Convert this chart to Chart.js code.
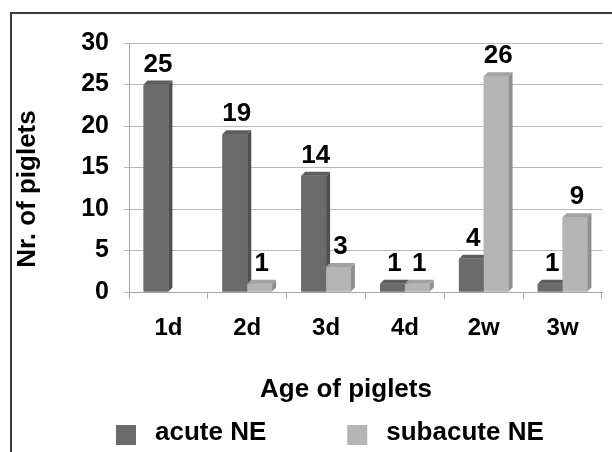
<!DOCTYPE html>
<html><head><meta charset="utf-8">
<script src="https://cdn.jsdelivr.net/npm/chart.js@4.4.1/dist/chart.umd.min.js"></script>
<style>
html,body{margin:0;padding:0;background:#fff;}
#wrap{position:relative;width:612px;height:452px;overflow:hidden;}
#frame{position:absolute;left:10px;top:12px;right:-5px;bottom:-5px;border-top:2px solid #3c3c3c;border-left:2px solid #3c3c3c;pointer-events:none;}
canvas{position:absolute;left:0;top:0;}
</style></head><body>
<div id="wrap"><canvas id="c" width="612" height="452"></canvas><div id="frame"></div></div>
<script>
const categories = ['1d', '2d', '3d', '4d', '2w', '3w'];
const acuteNE = [25, 19, 14, 1, 4, 1];
const subacuteNE = [0, 1, 3, 1, 26, 9];
const yTicks = [0, 5, 10, 15, 20, 25, 30];
const seriesNames = ['acute NE', 'subacute NE'];
const xTitle = 'Age of piglets';
const yTitle = 'Nr. of piglets';

const FONT = '"Liberation Sans", Arial, Helvetica, sans-serif';

const depth3d = {
  id: 'depth3d',
  afterDatasetsDraw(chart) {
    const ctx = chart.ctx;
    const dx = 4, dy = 4;
    chart.data.datasets.forEach((ds, i) => {
      const meta = chart.getDatasetMeta(i);
      meta.data.forEach((bar, j) => {
        if (!ds.data[j]) return;
        const p = bar.getProps(['x', 'y', 'base', 'width'], true);
        const l = p.x - p.width / 2, r = p.x + p.width / 2;
        bar.draw(ctx);
        ctx.save();
        ctx.fillStyle = ds.sideColor;
        ctx.beginPath();
        ctx.moveTo(r, p.y); ctx.lineTo(r + dx, p.y - dy); ctx.lineTo(r + dx, p.base - dy); ctx.lineTo(r, p.base);
        ctx.closePath(); ctx.fill();
        ctx.fillStyle = ds.topColor;
        ctx.beginPath();
        ctx.moveTo(l, p.y); ctx.lineTo(l + dx, p.y - dy); ctx.lineTo(r + dx, p.y - dy); ctx.lineTo(r, p.y);
        ctx.closePath(); ctx.fill();
        ctx.restore();
      });
    });
    // value labels
    ctx.save();
    ctx.font = 'bold 26px ' + FONT;
    ctx.fillStyle = '#000';
    ctx.textAlign = 'center';
    ctx.textBaseline = 'middle';
    chart.data.datasets.forEach((ds, i) => {
      const meta = chart.getDatasetMeta(i);
      meta.data.forEach((bar, j) => {
        if (!ds.data[j]) return;
        const p = bar.getProps(['x', 'y'], true);
        ctx.fillText(String(ds.data[j]), p.x + 2, p.y - 20);
      });
    });
    ctx.restore();
  }
};

const axisTitles = {
  id: 'axisTitles',
  afterDraw(chart) {
    const {ctx, chartArea, scales: {x, y}} = chart;
    ctx.save();
    ctx.font = 'bold 26px ' + FONT;
    ctx.fillStyle = '#000';
    ctx.textAlign = 'center';
    ctx.textBaseline = 'middle';
    ctx.fillText(xTitle, (y.left + 43 + chartArea.right) / 2, x.bottom + 55);
    ctx.save();
    ctx.translate(y.left - 19, (chartArea.top + x.bottom) / 2);
    ctx.rotate(-Math.PI / 2);
    ctx.fillText(yTitle, 0, 0);
    ctx.restore();
    // legend row
    ctx.textAlign = 'left';
    let lx = chartArea.left - 13;
    const yMid = chartArea.bottom + 141;
    chart.data.datasets.forEach(ds => {
      ctx.fillStyle = ds.backgroundColor;
      ctx.fillRect(lx, yMid - 8, 20, 20);
      ctx.fillStyle = '#000';
      ctx.fillText(ds.label, lx + 39, yMid);
      lx += 39 + ctx.measureText(ds.label).width + 81;
    });
    ctx.restore();
  }
};

new Chart(document.getElementById('c'), {
  type: 'bar',
  data: {
    labels: categories,
    datasets: [
      { label: seriesNames[0], data: acuteNE, backgroundColor: '#696b6c', sideColor: '#4e5051', topColor: '#5b5d5e' },
      { label: seriesNames[1], data: subacuteNE, backgroundColor: '#b3b5b7', sideColor: '#8d8f91', topColor: '#a0a2a4' }
    ]
  },
  options: {
    responsive: false,
    animation: false,
    devicePixelRatio: 1,
    categoryPercentage: 0.63,
    barPercentage: 1.0,
    layout: { padding: { left: 47, right: 10, top: 43, bottom: 117 } },
    plugins: {
      title: { display: false },
      tooltip: { enabled: false },
      legend: { display: false }
    },
    scales: {
      x: {
        afterFit(s) { s.height = 43; },
        grid: { display: true, offset: true, drawOnChartArea: false, drawTicks: true, tickLength: 7, color: '#a6a6a6' },
        border: { display: true, color: '#a6a6a6' },
        ticks: { color: '#000', padding: 15, font: { family: FONT, size: 24, weight: 'bold' } }
      },
      y: {
        min: 0,
        max: 30,
        afterFit(s) { s.width = 82; },
        afterBuildTicks(s) { s.ticks = yTicks.map(v => ({ value: v })); },
        grid: { color: '#b8b8b8', tickLength: 5, drawTicks: true },
        border: { display: true, color: '#a6a6a6' },
        ticks: { color: '#000', padding: 15, font: { family: FONT, size: 25, weight: 'bold' } }
      }
    }
  },
  plugins: [depth3d, axisTitles]
});
</script>
</body></html>
